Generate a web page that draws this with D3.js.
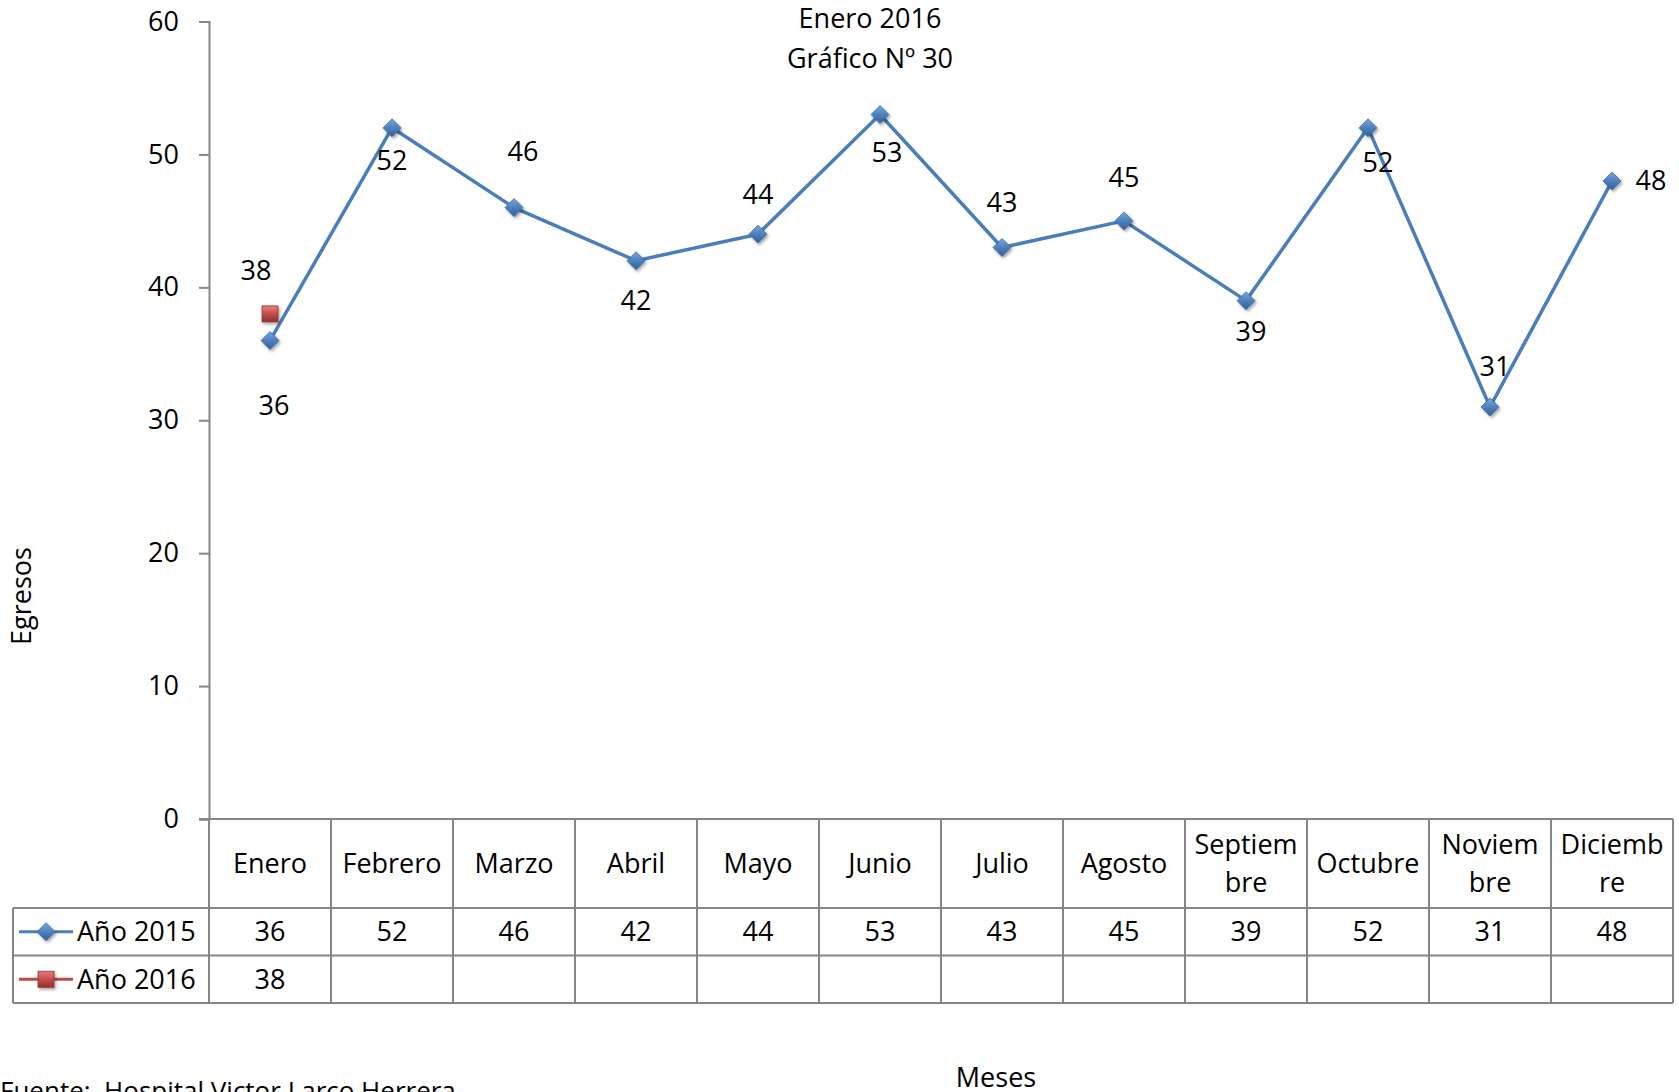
<!DOCTYPE html>
<html>
<head>
<meta charset="utf-8">
<script src="https://cdn.jsdelivr.net/npm/d3@7"></script>
<style>
  body { margin: 0; background: #fff; }
  svg { display: block; }
  text { font-family: "Open Sans", "Noto Sans", sans-serif; fill: #000; white-space: pre; }
</style>
</head>
<body>
<div id="container"></div>
<script>
// data
var months = ["Enero", "Febrero", "Marzo", "Abril", "Mayo", "Junio", "Julio",
              "Agosto", "Septiembre", "Octubre", "Noviembre", "Diciembre"];
var values2015 = [36, 52, 46, 42, 44, 53, 43, 45, 39, 52, 31, 48];
var values2016 = [38];
var seriesNames = ["Año 2015", "Año 2016"];
var yTicks = [0, 10, 20, 30, 40, 50, 60];

// hand placed data label offsets (px from the point), like the original
var offs2015 = [[4, 65], [0, 33], [9, -56], [0, 40], [0, -40], [7, 38], [0, -45],
                [0, -43], [5, 31], [10, 35], [5, -40], [39, 0]];
var offs2016 = [[-14, -43]];

// 1. sizes
var W = 1679, H = 1092,
    plotLeft = 209, plotRight = 1673, plotTop = 21.5, plotBottom = 819,
    rowBottoms = [908, 955.5, 1003],
    tableLeft = 13,
    fs = 27;

var svg = d3.select("#container")
  .append("svg")
    .attr("width", W)
    .attr("height", H);

svg.append("rect").attr("width", W).attr("height", H).attr("fill", "#fff");

// gradients for the bevelled markers
var defs = svg.append("defs");
var gb = defs.append("linearGradient").attr("id", "gBlue")
    .attr("x1", 0).attr("y1", 0).attr("x2", 0).attr("y2", 1);
gb.append("stop").attr("offset", "0%").attr("stop-color", "#7aa6dc");
gb.append("stop").attr("offset", "50%").attr("stop-color", "#4f81bd");
gb.append("stop").attr("offset", "100%").attr("stop-color", "#2f5f98");
var gr = defs.append("linearGradient").attr("id", "gRed")
    .attr("x1", 0).attr("y1", 0).attr("x2", 0).attr("y2", 1);
gr.append("stop").attr("offset", "0%").attr("stop-color", "#ef7a77");
gr.append("stop").attr("offset", "50%").attr("stop-color", "#c0504d");
gr.append("stop").attr("offset", "100%").attr("stop-color", "#962f2c");
var sh = defs.append("filter").attr("id", "shadow")
    .attr("x", "-50%").attr("y", "-50%").attr("width", "200%").attr("height", "200%");
sh.append("feDropShadow").attr("dx", 1.5).attr("dy", 2).attr("stdDeviation", 1.5)
    .attr("flood-color", "#000").attr("flood-opacity", 0.35);

// 2. scales
var x = d3.scaleBand().domain(months).range([plotLeft, plotRight]);
var y = d3.scaleLinear().domain([0, 60]).range([plotBottom, plotTop]);
var cx = function(m) { return x(m) + x.bandwidth() / 2; };

// 3. y axis
var yAxis = svg.append("g")
    .attr("transform", "translate(" + plotLeft + ",0)")
    .call(d3.axisLeft(y).tickValues(yTicks).tickSize(10).tickPadding(20));
yAxis.select(".domain").attr("stroke", "#868686").attr("stroke-width", 2);
yAxis.selectAll(".tick line").attr("stroke", "#868686").attr("stroke-width", 2);
yAxis.selectAll(".tick text")
    .style("font-family", "'Open Sans', sans-serif")
    .style("font-size", fs + "px")
    .attr("fill", "#000");

svg.append("text")
    .attr("transform", "translate(22,596) rotate(-90)")
    .attr("text-anchor", "middle")
    .attr("dy", "0.35em")
    .style("font-size", fs + "px")
    .text("Egresos");

// 4. data table
var grid = svg.append("g").attr("stroke", "#868686").attr("stroke-width", 2);
grid.append("line").attr("x1", plotLeft - 10).attr("x2", plotRight).attr("y1", plotBottom).attr("y2", plotBottom);
rowBottoms.forEach(function(yy) {
  grid.append("line").attr("x1", tableLeft).attr("x2", plotRight).attr("y1", yy).attr("y2", yy);
});
grid.append("line").attr("x1", tableLeft).attr("x2", tableLeft)
    .attr("y1", rowBottoms[0]).attr("y2", rowBottoms[2]);
months.concat(["end"]).forEach(function(m, i) {
  var xx = i < months.length ? x(m) : plotRight;
  grid.append("line").attr("x1", xx).attr("x2", xx).attr("y1", plotBottom).attr("y2", rowBottoms[2]);
});

// month header, wrapped to the cell width like Excel does
var maxW = x.bandwidth() - 10;
months.forEach(function(m) {
  var t = svg.append("text").attr("text-anchor", "middle").style("font-size", fs + "px").text(m);
  var lines = [m];
  if (t.node().getComputedTextLength() > maxW) {
    var cut = m.length;
    for (var k = 1; k <= m.length; k++) {
      t.text(m.slice(0, k));
      if (t.node().getComputedTextLength() > maxW) { cut = k - 1; break; }
    }
    lines = [m.slice(0, cut), m.slice(cut)];
  }
  t.text(null);
  var mid = (plotBottom + rowBottoms[0]) / 2, lh = 38.5;
  lines.forEach(function(s, j) {
    t.append("tspan")
      .attr("x", cx(m))
      .attr("y", mid + (j - (lines.length - 1) / 2) * lh)
      .attr("dy", "0.35em")
      .text(s);
  });
});

// value rows
var rowMid = [(rowBottoms[0] + rowBottoms[1]) / 2, (rowBottoms[1] + rowBottoms[2]) / 2];
[values2015, values2016].forEach(function(vals, r) {
  svg.append("g").selectAll("text")
    .data(vals)
    .enter().append("text")
    .attr("x", function(d, i) { return cx(months[i]); })
    .attr("y", rowMid[r])
    .attr("dy", "0.35em")
    .attr("text-anchor", "middle")
    .style("font-size", fs + "px")
    .text(function(d) { return d; });
});

// markers
function diamond(g, px, py) {
  var s = 9;
  g.append("path")
    .attr("d", "M" + px + "," + (py - s) + "L" + (px + s) + "," + py + "L" + px + "," + (py + s) + "L" + (px - s) + "," + py + "Z")
    .attr("fill", "url(#gBlue)")
    .attr("stroke", "#3d6ba3")
    .attr("stroke-width", 0.8)
    .attr("filter", "url(#shadow)");
}
function square(g, px, py) {
  g.append("rect")
    .attr("x", px - 8).attr("y", py - 8).attr("width", 16).attr("height", 16)
    .attr("fill", "url(#gRed)")
    .attr("stroke", "#8b3432")
    .attr("stroke-width", 0.8)
    .attr("filter", "url(#shadow)");
}

// legend keys in the table
svg.append("line").attr("x1", 19).attr("x2", 73).attr("y1", rowMid[0]).attr("y2", rowMid[0])
    .attr("stroke", "#4a7ebb").attr("stroke-width", 3);
diamond(svg, 46, rowMid[0]);
svg.append("line").attr("x1", 19).attr("x2", 73).attr("y1", rowMid[1]).attr("y2", rowMid[1])
    .attr("stroke", "#be4b48").attr("stroke-width", 3);
square(svg, 46, rowMid[1]);
seriesNames.forEach(function(s, i) {
  svg.append("text")
    .attr("x", 77).attr("y", rowMid[i]).attr("dy", "0.35em")
    .style("font-size", fs + "px")
    .text(s);
});

// 5. lines
var line = d3.line()
    .x(function(d, i) { return cx(months[i]); })
    .y(function(d) { return y(d); });

svg.append("path")
    .datum(values2015)
    .attr("d", line)
    .attr("fill", "none")
    .attr("stroke", "#4a7ebb")
    .attr("stroke-width", 3.5)
    .attr("stroke-linejoin", "round");

var pts = svg.append("g");
values2015.forEach(function(d, i) { diamond(pts, cx(months[i]), y(d)); });
values2016.forEach(function(d, i) { square(pts, cx(months[i]), y(d)); });

// data labels
function labels(vals, offs) {
  svg.append("g").selectAll("text")
    .data(vals)
    .enter().append("text")
    .attr("x", function(d, i) { return cx(months[i]) + offs[i][0]; })
    .attr("y", function(d, i) { return y(d) + offs[i][1]; })
    .attr("dy", "0.35em")
    .attr("text-anchor", "middle")
    .style("font-size", fs + "px")
    .text(function(d) { return d; });
}
labels(values2015, offs2015);
labels(values2016, offs2016);

// 6. titles
svg.append("text").attr("x", 870).attr("y", 28).attr("text-anchor", "middle")
    .style("font-size", fs + "px").text("Enero 2016");
svg.append("text").attr("x", 870).attr("y", 68).attr("text-anchor", "middle")
    .style("font-size", fs + "px").text("Gráfico Nº 30");

svg.append("text").attr("x", 996).attr("y", 1087).attr("text-anchor", "middle")
    .style("font-size", fs + "px").text("Meses");

svg.append("text").attr("x", 0).attr("y", 1100)
    .style("font-size", "26px").text("Fuente:  Hospital Victor Larco Herrera");
</script>
</body>
</html>
